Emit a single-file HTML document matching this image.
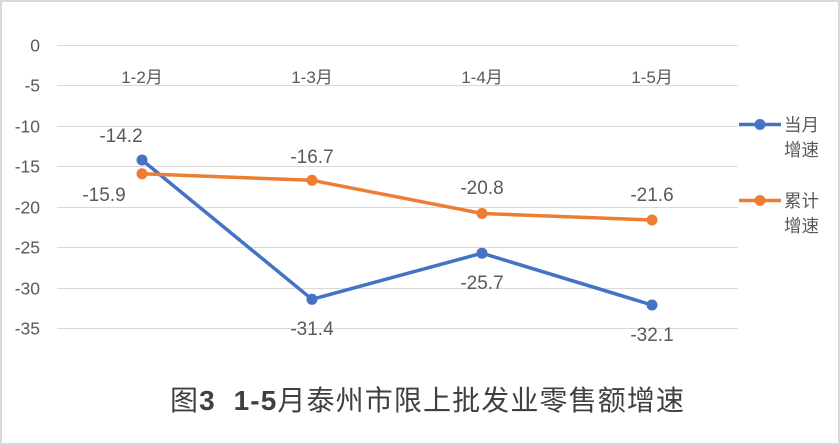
<!DOCTYPE html>
<html><head><meta charset="utf-8">
<style>
html,body{margin:0;padding:0;background:#fff;}
svg{display:block;}
text{font-family:"Liberation Sans","Noto Sans CJK SC",sans-serif;fill:#595959;}
</style></head>
<body>
<svg width="840" height="445" viewBox="0 0 840 445" xmlns="http://www.w3.org/2000/svg">
<rect x="1" y="1" width="838" height="443" fill="#fff" stroke="#D9D9D9" stroke-width="2"/>
<g stroke="#D9D9D9" stroke-width="1">
<line x1="57" x2="738" y1="45.5" y2="45.5"/>
<line x1="57" x2="738" y1="85.5" y2="85.5"/>
<line x1="57" x2="738" y1="126.5" y2="126.5"/>
<line x1="57" x2="738" y1="166.5" y2="166.5"/>
<line x1="57" x2="738" y1="207.5" y2="207.5"/>
<line x1="57" x2="738" y1="247.5" y2="247.5"/>
<line x1="57" x2="738" y1="288.5" y2="288.5"/>
<line x1="57" x2="738" y1="328.5" y2="328.5"/>
</g>
<g font-size="17.5" text-anchor="end">
<text x="40" y="51.5">0</text>
<text x="40" y="91.5">-5</text>
<text x="40" y="132.5">-10</text>
<text x="40" y="172.5">-15</text>
<text x="40" y="213.5">-20</text>
<text x="40" y="253.5">-25</text>
<text x="40" y="294.5">-30</text>
<text x="40" y="334.5">-35</text>
</g>
<g font-size="17" text-anchor="middle">
<text x="142" y="83">1-2月</text>
<text x="312" y="83">1-3月</text>
<text x="482" y="83">1-4月</text>
<text x="652" y="83">1-5月</text>
</g>
<polyline points="142,160 312,299.3 482,253.2 652,305" fill="none" stroke="#4472C4" stroke-width="3.5" stroke-linejoin="round"/>
<polyline points="142,173.8 312,180.3 482,213.5 652,220" fill="none" stroke="#ED7D31" stroke-width="3.5" stroke-linejoin="round"/>
<g fill="#4472C4">
<circle cx="142" cy="160" r="5.5"/>
<circle cx="312" cy="299.3" r="5.5"/>
<circle cx="482" cy="253.2" r="5.5"/>
<circle cx="652" cy="305" r="5.5"/>
</g>
<g fill="#ED7D31">
<circle cx="142" cy="173.8" r="5.5"/>
<circle cx="312" cy="180.3" r="5.5"/>
<circle cx="482" cy="213.5" r="5.5"/>
<circle cx="652" cy="220" r="5.5"/>
</g>
<g font-size="19" text-anchor="middle">
<text x="121" y="142">-14.2</text>
<text x="104" y="201">-15.9</text>
<text x="312" y="163">-16.7</text>
<text x="312" y="335">-31.4</text>
<text x="482" y="194">-20.8</text>
<text x="482" y="289">-25.7</text>
<text x="652" y="201">-21.6</text>
<text x="652" y="341">-32.1</text>
</g>
<line x1="739" x2="781" y1="124.5" y2="124.5" stroke="#4472C4" stroke-width="3.5"/>
<circle cx="760" cy="124.5" r="5.5" fill="#4472C4"/>
<line x1="739" x2="781" y1="200.5" y2="200.5" stroke="#ED7D31" stroke-width="3.5"/>
<circle cx="760" cy="200.5" r="5.5" fill="#ED7D31"/>
<g font-size="17.5">
<text x="784" y="131">当月</text>
<text x="784" y="156">增速</text>
<text x="784" y="207">累计</text>
<text x="784" y="232">增速</text>
</g>
<text x="170" y="410" font-size="28" textLength="514" lengthAdjust="spacing" style="fill:#404040">图<tspan font-weight="bold">3&#160;&#160;1-5</tspan>月泰州市限上批发业零售额增速</text>
</svg>
</body></html>
